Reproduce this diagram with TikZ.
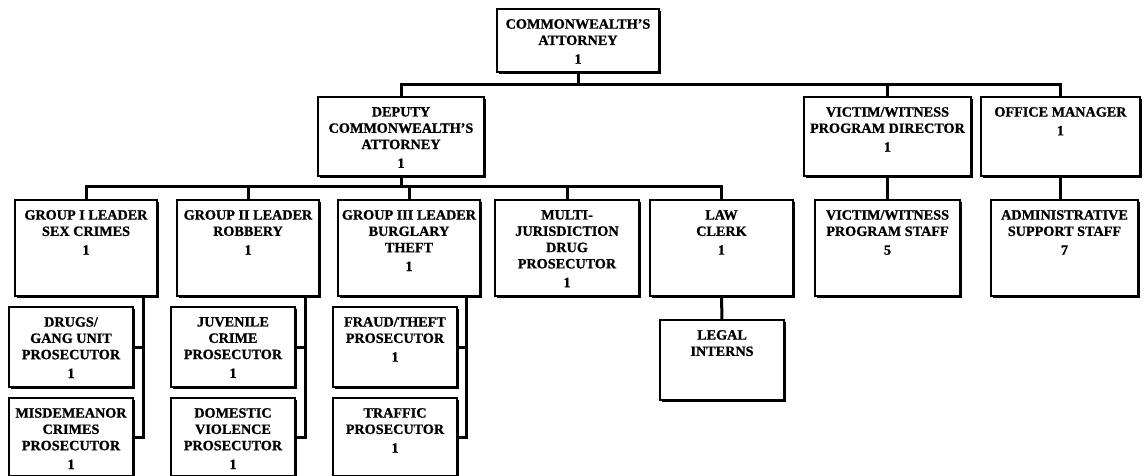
\documentclass[tikz,border=0pt]{standalone}
\usepackage{fontspec}
\setmainfont{Liberation Serif}[BoldFeatures={FakeBold=1}]
\usetikzlibrary{shadows}
\tikzset{
  orgbox/.style={draw, line width=1.3pt, fill=white, rectangle, inner sep=0pt, outer sep=0pt,
    drop shadow={shadow xshift=2.4pt, shadow yshift=-2.4pt, fill=black, opacity=1}},
  orglbl/.style={font=\bfseries\fontsize{14.2}{16.3}\selectfont, align=center, inner sep=0pt, anchor=north},
  conn/.style={line width=3pt}
}
\newcommand\obox[6]{%
  \pgfmathsetmacro\obw{#4-#2}%
  \pgfmathsetmacro\obh{#5-#3}%
  \node[orgbox, minimum width=\obw pt, minimum height=\obh pt] (#1) at ({(#2+#4)/2},{(#3+#5)/2}) {};
  \node[orglbl] (#1t) at ([yshift=-10pt]#1.north) {#6};}
\begin{document}
\begin{tikzpicture}[x=1pt,y=-1pt]
\useasboundingbox (0,0) rectangle (1144,476);
\fill[white] (0,0) rectangle (1144,476);
\clip (0,0) rectangle (1144,476);
% top levels
\obox{ca}{497}{9}{659}{72}{COMMONWEALTH'S\\ATTORNEY\\[2.5pt]1}
\obox{dep}{318}{97}{484}{176}{DEPUTY\\COMMONWEALTH'S\\ATTORNEY\\[2.5pt]1}
\obox{vwd}{804}{97}{971}{176}{VICTIM/WITNESS\\PROGRAM DIRECTOR\\[2.5pt]1}
\obox{om}{981}{97}{1140}{176}{OFFICE MANAGER\\[2.5pt]1}
% second row
\obox{g1}{15}{200}{157}{296}{GROUP I LEADER\\SEX CRIMES\\[2.5pt]1}
\obox{g2}{177}{200}{319}{296}{GROUP II LEADER\\ROBBERY\\[2.5pt]1}
\obox{g3}{338}{200}{480}{296}{GROUP III LEADER\\BURGLARY\\THEFT\\[2.5pt]1}
\obox{multi}{495}{200}{639}{296}{MULTI-\\JURISDICTION\\DRUG\\PROSECUTOR\\[2.5pt]1}
\obox{law}{650}{200}{793}{296}{LAW\\CLERK\\[2.5pt]1}
\obox{vws}{815}{200}{960}{296}{VICTIM/WITNESS\\PROGRAM STAFF\\[2.5pt]5}
\obox{admin}{991}{200}{1138}{296}{ADMINISTRATIVE\\SUPPORT STAFF\\[2.5pt]7}
% third row
\obox{drugs}{9}{307}{133}{387}{DRUGS/\\GANG UNIT\\PROSECUTOR\\[2.5pt]1}
\obox{misd}{9}{398}{133}{476}{MISDEMEANOR\\CRIMES\\PROSECUTOR\\[2.5pt]1}
\obox{juv}{171}{307}{295}{387}{JUVENILE\\CRIME\\PROSECUTOR\\[2.5pt]1}
\obox{dom}{171}{398}{295}{476}{DOMESTIC\\VIOLENCE\\PROSECUTOR\\[2.5pt]1}
\obox{fraud}{333}{307}{457}{387}{FRAUD/THEFT\\PROSECUTOR\\[2.5pt]1}
\obox{traffic}{333}{398}{457}{476}{TRAFFIC\\PROSECUTOR\\[2.5pt]1}
\obox{legal}{660}{320}{784}{400}{LEGAL\\INTERNS}
% connectors
\coordinate (busA) at (0,85);
\coordinate (busB) at (0,187);
\draw[conn] (ca.south) -- (ca.south |- busA);
\draw[conn] (dep.north) -- (dep.north |- busA) -| (om.north);
\draw[conn] (vwd.north) -- (vwd.north |- busA);
\draw[conn] (dep.south) -- (dep.south |- busB);
\draw[conn] (g1.north) -- (g1.north |- busB) -| (law.north);
\draw[conn] (g2.north) -- (g2.north |- busB);
\draw[conn] (g3.north) -- (g3.north |- busB);
\draw[conn] (multi.north) -- (multi.north |- busB);
\coordinate (g1v) at ([xshift=-14pt]g1.south east);
\coordinate (g2v) at ([xshift=-14pt]g2.south east);
\coordinate (g3v) at ([xshift=-14pt]g3.south east);
\draw[conn] (g1v) |- (misd.east);
\draw[conn] (drugs.east) -- (drugs.east -| g1v);
\draw[conn] (g2v) |- (dom.east);
\draw[conn] (juv.east) -- (juv.east -| g2v);
\draw[conn] (g3v) |- (traffic.east);
\draw[conn] (fraud.east) -- (fraud.east -| g3v);
\draw[conn] (law.south) -- (legal.north);
\draw[conn] (vwd.south) -- (vws.north);
\draw[conn] (om.south) -- (om.south |- admin.north);
\end{tikzpicture}
\end{document}
